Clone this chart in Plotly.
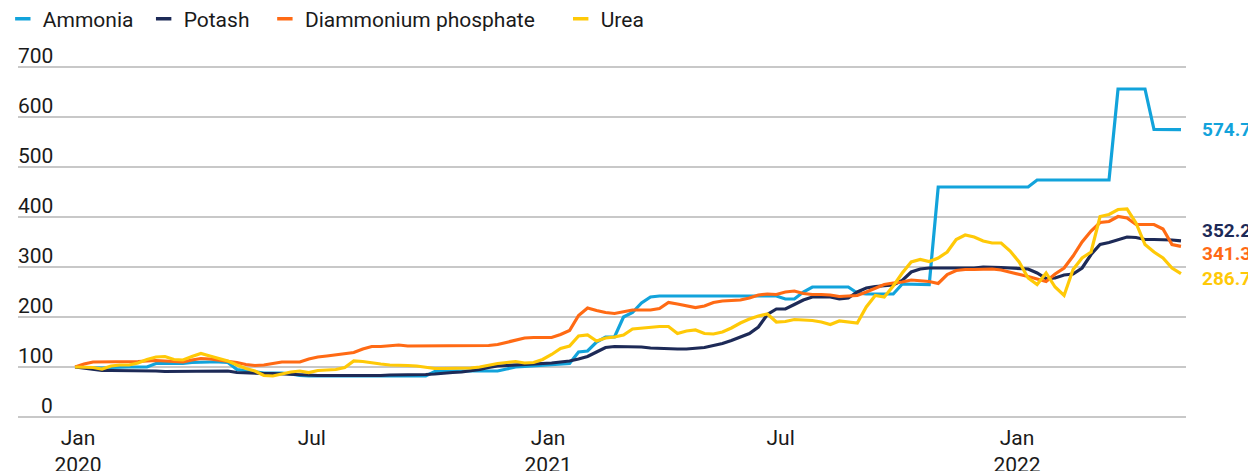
import pandas as pd
import plotly.graph_objects as go

# Weekly index values (Jan 2020 = 100)
dates = pd.date_range("2020-01-01", periods=124, freq="7D")

ammonia = [
    100, 99, 98, 98, 99, 100, 100, 100, 100, 107,
    107, 107, 107, 109, 110, 110, 110, 109, 95, 93,
    90, 88, 88, 88, 86, 83, 82, 82, 82, 82,
    82, 82, 82, 82, 82, 82, 82, 82, 82, 82,
    91, 92, 92, 92, 92, 92, 92, 92, 96, 100,
    101, 102, 103, 104, 105, 107, 130, 132, 150, 160,
    160, 200, 209, 228, 240, 242, 242, 242, 242, 242,
    242, 242, 242, 242, 242, 242, 242, 242, 242, 236,
    236, 250, 260, 260, 260, 260, 260, 248, 246, 246,
    246, 246, 266, 266, 265, 265, 460, 460, 460, 460,
    460, 460, 460, 460, 460, 460, 460, 474, 474, 474,
    474, 474, 474, 474, 474, 474, 656, 656, 656, 656,
    575, 575, 575, 574.7,
]

potash = [
    100, 98, 96, 93, 93, 93, 92, 92, 92, 92,
    91, 91, 91, 92, 92, 92, 92, 92, 89, 88,
    88, 87, 87, 86, 86, 84, 83, 83, 83, 83,
    82, 82, 82, 82, 83, 84, 84, 84, 85, 85,
    86, 88, 89, 90, 92, 95, 99, 102, 103, 104,
    104, 105, 107, 108, 110, 112, 116, 121, 130, 139,
    141, 141, 141, 140, 138, 137, 137, 136, 136, 137,
    139, 143, 147, 153, 160, 167, 180, 205, 216, 216,
    225, 234, 240, 240, 240, 236, 238, 250, 258, 261,
    262, 264, 273, 290, 296, 298, 298, 298, 298, 298,
    298, 300, 300, 299, 298, 297, 296, 288, 277, 278,
    284, 286, 298, 325, 345, 349, 355, 360, 359, 355,
    355, 355, 354, 352.2,
]

dap = [
    100, 106, 110, 110, 110, 111, 111, 111, 112, 113,
    112, 111, 110, 114, 117, 116, 114, 112, 109, 105,
    103, 104, 107, 110, 110, 110, 116, 120, 122, 124,
    127, 129, 136, 141, 141, 143, 144, 142, 142, 142,
    142, 142, 142, 142, 142, 142, 143, 145, 149, 154,
    158, 159, 159, 159, 165, 173, 203, 218, 213, 209,
    207, 210, 214, 214, 214, 217, 229, 226, 223, 219,
    222, 229, 232, 233, 234, 238, 244, 246, 245, 250,
    252, 247, 245, 245, 244, 241, 242, 243, 250, 258,
    265, 268, 270, 274, 272, 271, 267, 285, 293, 295,
    295, 296, 296, 294, 290, 285, 281, 276, 271, 286,
    298, 322, 350, 372, 389, 391, 401, 398, 385, 385,
    385, 376, 345, 341.3,
]

urea = [
    100, 100, 99, 96, 102, 104, 104, 108, 115, 120,
    121, 115, 114, 121, 127, 122, 117, 112, 104, 97,
    92, 83, 82, 86, 90, 92, 89, 93, 94, 95,
    99, 112, 111, 108, 106, 104, 104, 103, 102, 100,
    97, 97, 97, 97, 98, 100, 104, 107, 109, 111,
    108, 109, 115, 125, 137, 142, 162, 164, 152, 158,
    160, 164, 176, 178, 180, 181, 181, 167, 172, 174,
    167, 166, 170, 178, 188, 196, 202, 206, 190, 191,
    195, 194, 193, 190, 185, 192, 190, 188, 220, 243,
    240, 262, 288, 310, 315, 311, 318, 330, 355, 364,
    360, 352, 348, 348, 332, 310, 278, 265, 288, 260,
    243, 295, 318, 330, 401, 405, 415, 416, 388, 345,
    330, 318, 298, 286.7,
]

series_names = ["Ammonia", "Potash", "Diammonium phosphate", "Urea"]
series_values = [ammonia, potash, dap, urea]
series_colors = ["#12A3DB", "#1D2A57", "#FF6A14", "#FFC907"]
end_labels = ["574.7", "352.2", "341.3", "286.7"]
end_label_offsets = [1, 21, -14, -10]  # nudges (data units) to avoid overlap
legend_pad = [1, 2, 4, 1]  # trailing spaces per legend entry (spacing only)

x_tick_dates = ["2020-01-01", "2020-07-01", "2021-01-01", "2021-07-01", "2022-01-01"]
x_tick_text = ["Jan<br>2020", "Jul", "Jan<br>2021", "Jul", "Jan<br>2022"]
y_ticks = [0, 100, 200, 300, 400, 500, 600, 700]

FONT = "Roboto, Arial, sans-serif"
TXT = "#1a1a1a"

fig = go.Figure()
for name, vals, col in zip(series_names, series_values, series_colors):
    fig.add_trace(go.Scatter(x=dates, y=vals, mode="lines", name=name,
                             line=dict(color=col, width=3.2), showlegend=False))
# legend entries with short dash symbols
for name, col, pad in zip(series_names, series_colors, legend_pad):
    fig.add_trace(go.Scatter(x=[None], y=[None], mode="markers", name=name + "\u00a0" * pad,
                             marker=dict(symbol="line-ew", size=11, color=col,
                                         line=dict(color=col, width=3.5)),
                             showlegend=True))

annotations = []
for t in y_ticks:
    annotations.append(dict(x=37 / 1168, xref="paper", y=t, yref="y", text=str(t),
                            showarrow=False, xanchor="right", yanchor="bottom",
                            yshift=-3, font=dict(size=21, color=TXT, family=FONT)))
for vals, col, lab, off in zip(series_values, series_colors, end_labels, end_label_offsets):
    annotations.append(dict(x=1, xref="paper", y=vals[-1] + off, yref="y",
                            text=f"<b>{lab}</b>", showarrow=False, xanchor="left",
                            yanchor="middle", xshift=14,
                            font=dict(size=19, color=col, family=FONT)))

fig.update_layout(
    width=1248, height=463,
    margin=dict(l=10, r=70, t=54, b=49, autoexpand=False),
    paper_bgcolor="white", plot_bgcolor="white",
    font=dict(family=FONT, size=21, color=TXT),
    showlegend=True,
    legend=dict(orientation="h", x=-0.013, y=1.119, xanchor="left", yanchor="middle",
                font=dict(size=21, color=TXT, family=FONT),
                itemwidth=30, bgcolor="rgba(0,0,0,0)", tracegroupgap=0),
    annotations=annotations,
    xaxis=dict(type="date", range=["2019-11-17 14:00", "2022-05-14 22:00"],
               tickvals=x_tick_dates, ticktext=x_tick_text, showgrid=False,
               showline=False, zeroline=False, ticks="", automargin=False,
               ticklabelstandoff=1, ticklabelshift=3,
               tickfont=dict(size=21, color=TXT, family=FONT)),
    yaxis=dict(range=[-10, 710], tickvals=y_ticks, showticklabels=False,
               showgrid=True, gridcolor="#c8c8c8", gridwidth=1.5, zeroline=False,
               showline=False, ticks="", automargin=False),
)

fig.write_html("out.html")
